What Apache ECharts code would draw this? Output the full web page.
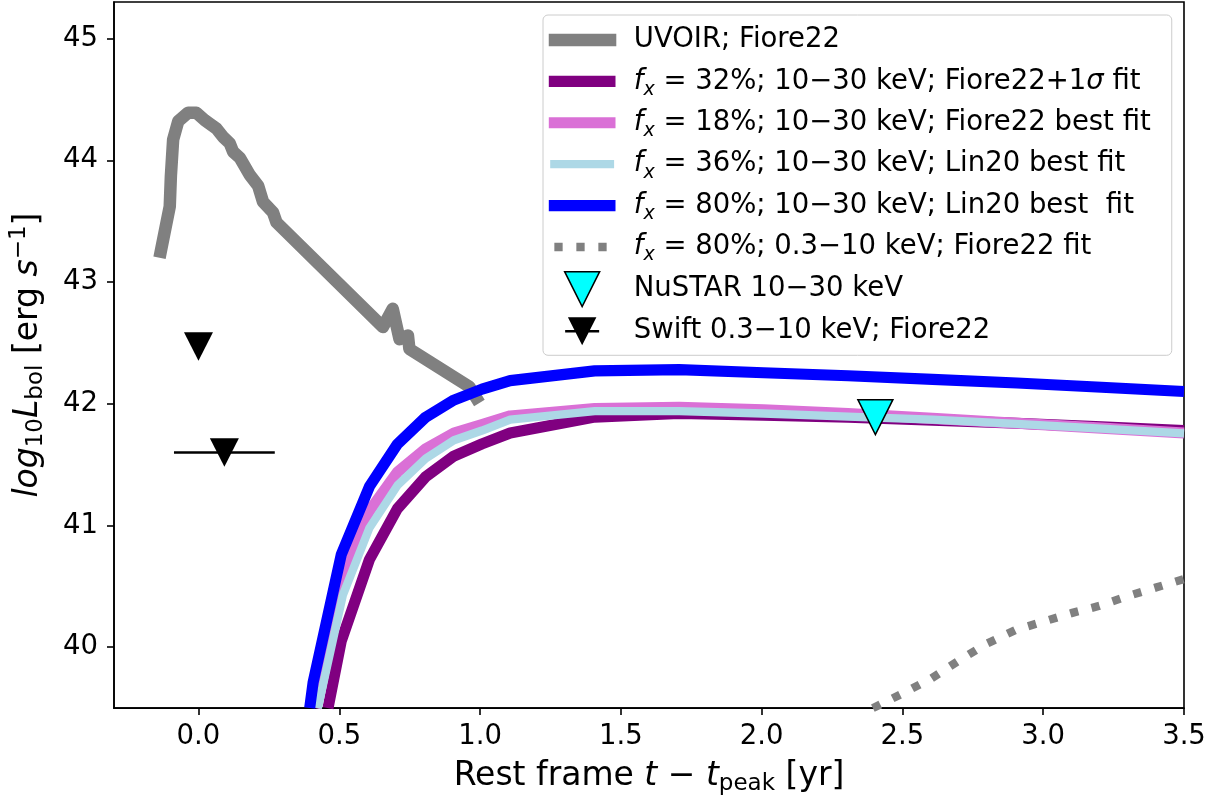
<!DOCTYPE html>
<html>
<head>
<meta charset="utf-8">
<script src="https://cdn.jsdelivr.net/npm/echarts@6/dist/echarts.min.js"></script>
<style>
html,body{margin:0;padding:0;background:#ffffff;}
#chart{width:1215px;height:801px;}
</style>
</head>
<body>
<div id="chart"></div>
<script>
// ---------------- data ----------------
const uvoirT = [-0.134, -0.102, -0.098, -0.090, -0.072, -0.037, -0.007, 0.022, 0.064, 0.088, 0.111, 0.123, 0.147, 0.182, 0.212, 0.229, 0.265, 0.277, 0.655, 0.690, 0.714, 0.744, 0.749, 0.962, 0.986];
const uvoirL = [43.25, 43.62, 43.87, 44.17, 44.32, 44.39, 44.39, 44.33, 44.26, 44.19, 44.14, 44.07, 44.02, 43.88, 43.79, 43.66, 43.57, 43.49, 42.63, 42.78, 42.53, 42.56, 42.45, 42.14, 42.05];

const fx32T = [0.460, 0.507, 0.607, 0.707, 0.807, 0.907, 1.007, 1.107, 1.407, 1.707, 2.007, 2.307, 2.607, 2.907, 3.207, 3.500];
const fx32L = [39.50, 40.05, 40.72, 41.14, 41.40, 41.57, 41.67, 41.76, 41.89, 41.92, 41.905, 41.89, 41.865, 41.84, 41.81, 41.78];

const fx18T = [0.415, 0.507, 0.607, 0.707, 0.807, 0.907, 1.007, 1.107, 1.407, 1.707, 2.007, 2.307, 2.607, 2.907, 3.207, 3.500];
const fx18L = [39.50, 40.58, 41.12, 41.44, 41.63, 41.76, 41.83, 41.90, 41.96, 41.97, 41.95, 41.92, 41.88, 41.84, 41.80, 41.76];

const fx36T = [0.424, 0.513, 0.607, 0.707, 0.807, 0.907, 1.007, 1.107, 1.407, 1.707, 2.007, 2.307, 2.607, 2.907, 3.207, 3.500];
const fx36L = [39.50, 40.43, 40.98, 41.33, 41.55, 41.70, 41.78, 41.87, 41.94, 41.94, 41.92, 41.895, 41.87, 41.835, 41.795, 41.757];

const fx80T = [0.395, 0.407, 0.507, 0.607, 0.707, 0.807, 0.907, 1.007, 1.107, 1.407, 1.707, 2.007, 2.307, 2.607, 2.907, 3.207, 3.500];
const fx80L = [39.50, 39.71, 40.76, 41.32, 41.67, 41.89, 42.03, 42.12, 42.19, 42.27, 42.28, 42.255, 42.23, 42.20, 42.17, 42.135, 42.10];

const softT = [2.395, 2.5, 2.6, 2.7, 2.8, 2.9, 3.0, 3.1, 3.2, 3.3, 3.4, 3.5];
const softL = [39.50, 39.62, 39.74, 39.89, 40.03, 40.14, 40.21, 40.28, 40.34, 40.42, 40.49, 40.56];

const nustarT = [2.404];
const nustarL = [41.89];

const swiftT = [0.0, 0.092];
const swiftL = [42.47, 41.60];
const swiftTerr = [0, 0.179];

const xTicks = [0, 0.5, 1.0, 1.5, 2.0, 2.5, 3.0, 3.5];
const yTicks = [40, 41, 42, 43, 44, 45];

const seriesNames = [
  'UVOIR; Fiore22',
  'f_x = 32%; 10\u221230 keV; Fiore22+1\u03c3 fit',
  'f_x = 18%; 10\u221230 keV; Fiore22 best fit',
  'f_x = 36%; 10\u221230 keV; Lin20 best fit',
  'f_x = 80%; 10\u221230 keV; Lin20 best  fit',
  'f_x = 80%; 0.3\u221210 keV; Fiore22 fit',
  'NuSTAR 10\u221230 keV',
  'Swift 0.3\u221210 keV; Fiore22'
];

// ---------------- styling ----------------
const FONT = 'DejaVu Sans';
const FS = 27.5;   // tick labels and legend
const NFS = 33;    // axis titles
const zip = (a, b) => a.map((v, i) => [v, b[i]]);

const IW = 80, IH = 36, CX = 33.4, HALF = 27.8;
const frame = `M0 0L0 0M${IW} ${IH}L${IW} ${IH}`;
function barIcon(lw) {
  const x0 = CX - HALF - lw / 2, x1 = CX + HALF + lw / 2;
  const y0 = IH / 2 - lw / 2, y1 = IH / 2 + lw / 2;
  return `path://${frame}M${x0} ${y0}L${x1} ${y0}L${x1} ${y1}L${x0} ${y1}Z`;
}
function dotIcon(lw, dash, gap) {
  let p = `path://${frame}`;
  const y0 = IH / 2 - lw / 2, y1 = IH / 2 + lw / 2;
  for (let s = CX - HALF; s < CX + HALF; s += dash + gap) {
    const e = Math.min(s + dash, CX + HALF);
    p += `M${s} ${y0}L${e} ${y0}L${e} ${y1}L${s} ${y1}Z`;
  }
  return p;
}
function triIcon(w, h, barW, barH) {
  const y0 = IH / 2 - h / 2, y1 = IH / 2 + h / 2;
  let p = `path://${frame}M${CX - w / 2} ${y0}L${CX + w / 2} ${y0}L${CX} ${y1}Z`;
  if (barW) {
    const b0 = IH / 2 - barH / 2, b1 = IH / 2 + barH / 2;
    p += `M${CX - barW / 2} ${b0}L${CX + barW / 2} ${b0}L${CX + barW / 2} ${b1}L${CX - barW / 2} ${b1}Z`;
  }
  return p;
}

const colors = ['#808080', '#800080', '#da70d6', '#add8e6', '#0000ff', '#808080', '#00ffff', '#000000'];
const widths = [12.5, 11.1, 11.1, 8.3, 11.1, 8.3];
const DOT = [8.3, 13.7];
const TRI = 'path://M0 0L2 0L1 2Z';

function lineSeries(i, t, l, extra) {
  return Object.assign({
    name: seriesNames[i], type: 'line', data: zip(t, l),
    symbol: 'none', silent: true, clip: true,
    lineStyle: { color: colors[i], width: widths[i], cap: 'butt', join: 'round' },
    emphasis: { disabled: true }, z: 2 + i * 0.01
  }, extra || {});
}

const errData = [];
swiftT.forEach((t, i) => {
  if (swiftTerr[i] > 0) {
    errData.push([t - swiftTerr[i], swiftL[i]], [t + swiftTerr[i], swiftL[i]], null);
  }
});

const legendData = [
  { name: seriesNames[0], icon: barIcon(widths[0]), itemStyle: { color: colors[0], borderWidth: 0 } },
  { name: seriesNames[1], icon: barIcon(widths[1]), itemStyle: { color: colors[1], borderWidth: 0 } },
  { name: seriesNames[2], icon: barIcon(widths[2]), itemStyle: { color: colors[2], borderWidth: 0 } },
  { name: seriesNames[3], icon: barIcon(widths[3]), itemStyle: { color: colors[3], borderWidth: 0 } },
  { name: seriesNames[4], icon: barIcon(widths[4]), itemStyle: { color: colors[4], borderWidth: 0 } },
  { name: seriesNames[5], icon: dotIcon(widths[5], DOT[0], DOT[1]), itemStyle: { color: colors[5], borderWidth: 0 } },
  { name: seriesNames[6], icon: triIcon(35, 35), itemStyle: { color: colors[6], borderColor: '#000', borderWidth: 1.5 } },
  { name: seriesNames[7], icon: triIcon(28.5, 28, 34, 2.6), itemStyle: { color: colors[7], borderWidth: 0 } }
];

const richLegend = {
  i: { fontStyle: 'italic', fontSize: FS, lineHeight: 36 },
  s: { fontStyle: 'italic', fontSize: 19, lineHeight: 19, verticalAlign: 'bottom' }
};
const richName = {
  i: { fontStyle: 'italic', fontSize: NFS, lineHeight: 40 },
  r: { fontSize: 23, lineHeight: 23, verticalAlign: 'bottom' },
  p: { fontSize: 23, lineHeight: 23, verticalAlign: 'top' }
};

const chart = echarts.init(document.getElementById('chart'), null, { renderer: 'canvas' });
chart.setOption({
  animation: false,
  backgroundColor: '#ffffff',
  textStyle: { fontFamily: FONT },
  grid: { left: 113, right: 31, top: 2, bottom: 91, show: true, borderColor: '#000', borderWidth: 1.6, backgroundColor: 'transparent' },
  xAxis: {
    type: 'value', min: -0.3, max: 3.5,
    splitLine: { show: false },
    axisLine: { onZero: false, lineStyle: { color: '#000', width: 1.6 } },
    axisTick: { customValues: xTicks, length: 7, lineStyle: { color: '#000', width: 1.6 } },
    axisLabel: { customValues: xTicks, formatter: v => Number(v).toFixed(1), fontSize: FS, fontFamily: FONT, color: '#000', margin: 15 },
    name: 'Rest frame {i|t} \u2212 {i|t}{r|peak} [yr]',
    nameLocation: 'middle', nameGap: 46,
    nameTextStyle: { fontSize: NFS, fontFamily: FONT, color: '#000', lineHeight: 40, rich: richName }
  },
  yAxis: {
    type: 'value', min: 39.5, max: 45.3,
    splitLine: { show: false },
    axisLine: { onZero: false, lineStyle: { color: '#000', width: 1.6 } },
    axisTick: { customValues: yTicks, length: 7, lineStyle: { color: '#000', width: 1.6 } },
    axisLabel: { customValues: yTicks, formatter: v => String(Math.round(v)), fontSize: FS, fontFamily: FONT, color: '#000', margin: 16 },
    name: '{i|log}{r|10}{i|L}{r|bol} [erg {i|s}{p|\u22121}]',
    nameLocation: 'middle', nameGap: 66, nameRotate: 90,
    nameTextStyle: { fontSize: NFS, fontFamily: FONT, color: '#000', lineHeight: 40, rich: richName }
  },
  legend: {
    orient: 'vertical', left: 543, top: 15,
    padding: [7, 21, 6, 5],
    itemWidth: IW, itemHeight: IH, itemGap: 5.4,
    symbolRotate: 0, symbolKeepAspect: true,
    selectedMode: false,
    backgroundColor: 'rgba(255,255,255,0.8)',
    borderColor: '#cccccc', borderWidth: 1, borderRadius: 5,
    data: legendData,
    formatter: name => name.replace('f_x', '{i|f}{s|x}').replace('\u03c3', '{i|\u03c3}'),
    textStyle: { fontSize: FS, fontFamily: FONT, color: '#000', lineHeight: 36, rich: richLegend },
    z: 10
  },
  series: [
    lineSeries(0, uvoirT, uvoirL, { lineStyle: { color: colors[0], width: widths[0], cap: 'square', join: 'round' } }),
    lineSeries(1, fx32T, fx32L),
    lineSeries(2, fx18T, fx18L),
    lineSeries(3, fx36T, fx36L),
    lineSeries(4, fx80T, fx80L),
    lineSeries(5, softT, softL, { lineStyle: { color: colors[5], width: widths[5], type: DOT, cap: 'butt', join: 'round' } }),
    {
      name: seriesNames[6], type: 'scatter', data: zip(nustarT, nustarL),
      symbol: TRI, symbolSize: [35, 35], silent: true,
      itemStyle: { color: colors[6], borderColor: '#000', borderWidth: 1.5, opacity: 1 },
      emphasis: { disabled: true }, z: 5
    },
    {
      name: 'Swift xerr', type: 'line', data: errData, connectNulls: false,
      symbol: 'none', silent: true,
      lineStyle: { color: '#000', width: 2.5, cap: 'butt' },
      emphasis: { disabled: true }, z: 5
    },
    {
      name: seriesNames[7], type: 'scatter', data: zip(swiftT, swiftL),
      symbol: TRI, symbolSize: [29, 28.5], silent: true,
      itemStyle: { color: colors[7], borderWidth: 0, opacity: 1 },
      emphasis: { disabled: true }, z: 6
    }
  ]
});
</script>
</body>
</html>
